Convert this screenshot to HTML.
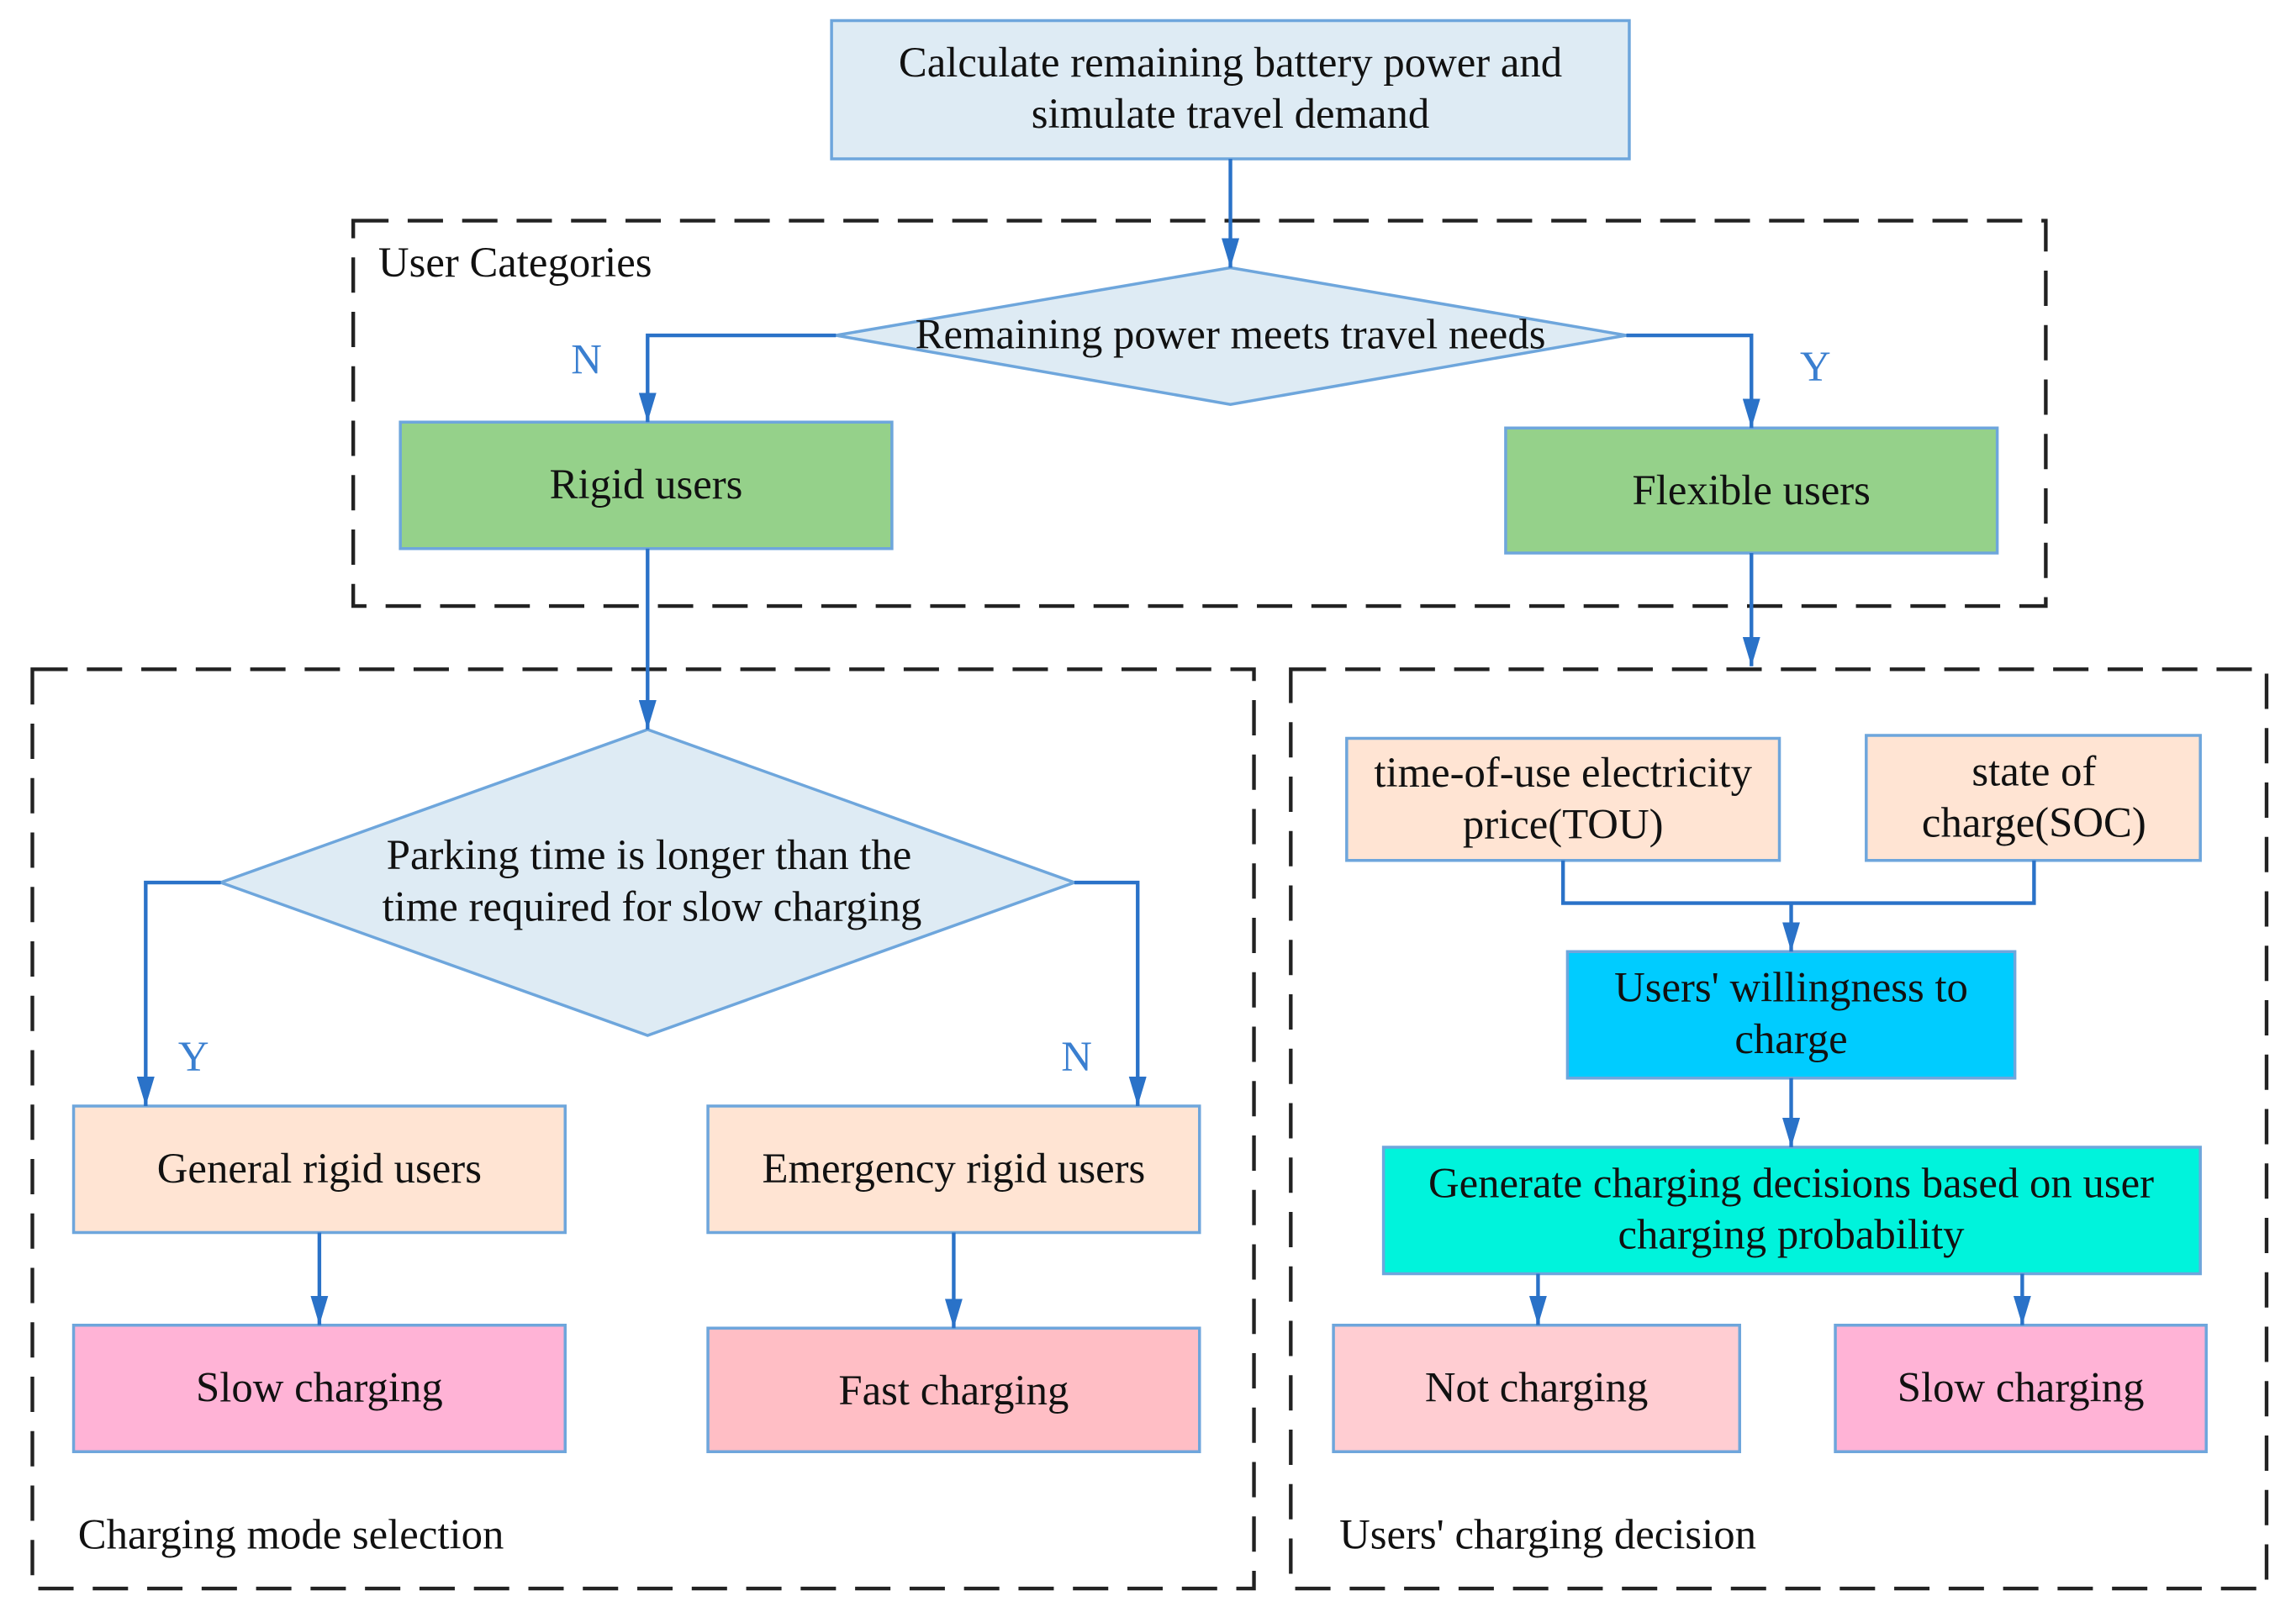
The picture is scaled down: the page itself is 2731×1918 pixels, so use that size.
<!DOCTYPE html>
<html><head><meta charset="utf-8"><style>
html,body{margin:0;padding:0;background:#fff;}
svg{display:block;}
text{font-family:"Liberation Serif",serif;font-size:29px;fill:#111;}
.lbl{fill:#3a7fd0;}
</style></head><body>
<svg width="2731" height="1918" viewBox="0 0 1560 1096" preserveAspectRatio="none" xmlns="http://www.w3.org/2000/svg">
<defs>
<marker id="a" markerWidth="20" markerHeight="12" refX="20" refY="6" orient="auto" markerUnits="userSpaceOnUse" viewBox="0 0 20 12">
<path d="M0,0 L20,6 L0,12 Z" fill="#2a72c8"/>
</marker>
</defs>
<g fill="none" stroke="#222" stroke-width="2.5" stroke-dasharray="24 13">
<rect x="240" y="150" width="1150" height="262"/>
<rect x="22" y="455" width="830" height="625"/>
<rect x="877" y="455" width="663" height="625"/>
</g>
<g stroke="#6ea6dc" stroke-width="2">
<rect x="565" y="14" width="542" height="94" fill="#deebf4"/>
<polygon points="836,182 1105,228 836,275 568,228" fill="#deebf4"/>
<rect x="272" y="287" width="334" height="86" fill="#95d18a"/>
<rect x="1023" y="291" width="334" height="85" fill="#95d18a"/>
<polygon points="440,496 730,600 440,704 150,600" fill="#deebf4"/>
<rect x="50" y="752" width="334" height="86" fill="#ffe4d3"/>
<rect x="481" y="752" width="334" height="86" fill="#ffe4d3"/>
<rect x="50" y="901" width="334" height="86" fill="#ffb3d6"/>
<rect x="481" y="903" width="334" height="84" fill="#ffbec5"/>
<rect x="915" y="502" width="294" height="83" fill="#ffe4d3"/>
<rect x="1268" y="500" width="227" height="85" fill="#ffe4d3"/>
<rect x="1065" y="647" width="304" height="86" fill="#00ccff"/>
<rect x="940" y="780" width="555" height="86" fill="#00f3dc"/>
<rect x="906" y="901" width="276" height="86" fill="#ffcdd2"/>
<rect x="1247" y="901" width="252" height="86" fill="#ffb3d6"/>
</g>
<g fill="none" stroke="#2a72c8" stroke-width="2.5">
<path d="M836,108 V182" marker-end="url(#a)"/>
<path d="M568,228 H440 V287" marker-end="url(#a)"/>
<path d="M1105,228 H1190 V291" marker-end="url(#a)"/>
<path d="M440,373 V496" marker-end="url(#a)"/>
<path d="M1190,376 V453" marker-end="url(#a)"/>
<path d="M150,600 H99 V752" marker-end="url(#a)"/>
<path d="M730,600 H773 V752" marker-end="url(#a)"/>
<path d="M217,838 V901" marker-end="url(#a)"/>
<path d="M648,838 V903" marker-end="url(#a)"/>
<path d="M1062,585 V614 H1382 V585"/>
<path d="M1217,614 V647" marker-end="url(#a)"/>
<path d="M1217,733 V780" marker-end="url(#a)"/>
<path d="M1045,866 V901" marker-end="url(#a)"/>
<path d="M1374,866 V901" marker-end="url(#a)"/>
</g>
<g text-anchor="middle">
<text x="836" y="52">Calculate remaining battery power and</text>
<text x="836" y="87">simulate travel demand</text>
<text x="836" y="237">Remaining power meets travel needs</text>
<text x="439" y="339">Rigid users</text>
<text x="1190" y="343">Flexible users</text>
<text x="441" y="591">Parking time is longer than the</text>
<text x="443" y="626">time required for slow charging</text>
<text x="217" y="804">General rigid users</text>
<text x="648" y="804">Emergency rigid users</text>
<text x="217" y="953">Slow charging</text>
<text x="648" y="955">Fast charging</text>
<text x="1062" y="535">time-of-use electricity</text>
<text x="1062" y="570">price(TOU)</text>
<text x="1382" y="534">state of</text>
<text x="1382" y="569">charge(SOC)</text>
<text x="1217" y="681">Users' willingness to</text>
<text x="1217" y="716">charge</text>
<text x="1217" y="814">Generate charging decisions based on user</text>
<text x="1217" y="849">charging probability</text>
<text x="1044" y="953">Not charging</text>
<text x="1373" y="953">Slow charging</text>
</g>
<text x="257" y="188">User Categories</text>
<text x="53" y="1053">Charging mode selection</text>
<text x="910" y="1053">Users' charging decision</text>
<text class="lbl" x="388" y="254">N</text>
<text class="lbl" x="1223" y="259">Y</text>
<text class="lbl" x="121" y="728">Y</text>
<text class="lbl" x="721" y="728">N</text>
</svg>
</body></html>
